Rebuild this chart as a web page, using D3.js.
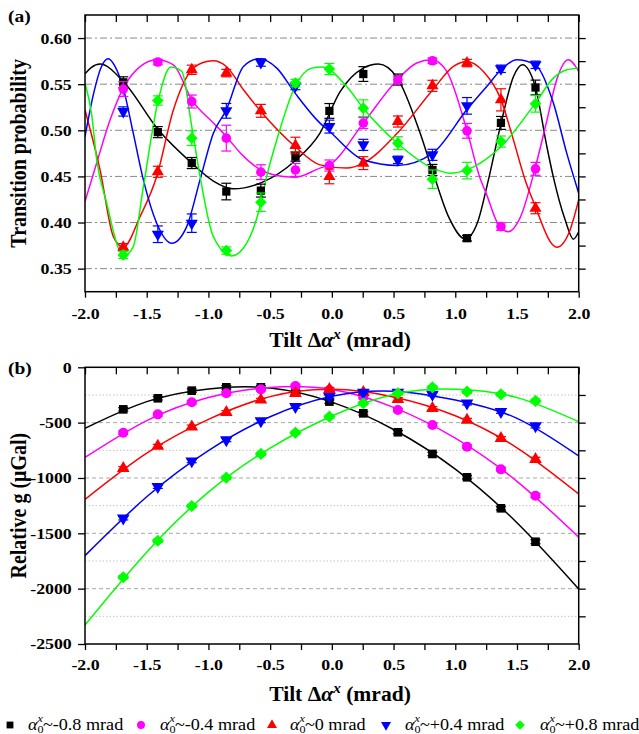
<!DOCTYPE html>
<html>
<head>
<meta charset="utf-8">
<script src="https://cdn.jsdelivr.net/npm/d3@7"></script>
<style>
  body { margin: 0; background: #fff; }
  text { font-family: "Liberation Serif", "Times New Roman", serif; fill: #000; }
</style>
</head>
<body>
<svg id="fig" width="639" height="734"></svg>
<script>
// ---------------- DATA ----------------
const seriesLabels = ["-0.8", "-0.4", "0", "+0.4", "+0.8"];
const seriesColors = ["#000000", "#ff00ff", "#ff0000", "#0000ff", "#00ff00"];
const tiltX = [-1.69, -1.41, -1.135, -0.855, -0.575, -0.295, -0.02, 0.255, 0.535, 0.815, 1.095, 1.37, 1.65];

// (a) transition probability, points and error bars
const probBlack   = [0.552, 0.498, 0.4645, 0.4336, 0.4346, 0.4715, 0.521, 0.561, 0.555, 0.457, 0.383, 0.508, 0.5464];
const probMagenta = [0.5447, 0.574, 0.5312, 0.4915, 0.4546, 0.457, 0.4618, 0.5078, 0.5547, 0.5754, 0.4994, 0.3956, 0.4582];
const probRed     = [0.3732, 0.455, 0.5656, 0.562, 0.5211, 0.4835, 0.45, 0.4644, 0.5095, 0.5482, 0.5729, 0.533, 0.4155];
const probBlue    = [0.5204, 0.3873, 0.3993, 0.5211, 0.5735, 0.548, 0.504, 0.4842, 0.468, 0.4734, 0.5265, 0.5667, 0.571];
const probGreen   = [0.3649, 0.5323, 0.4915, 0.3696, 0.422, 0.5512, 0.5664, 0.524, 0.486, 0.447, 0.4563, 0.4878, 0.5287];

const probErrBlack   = [0.006, 0.006, 0.006, 0.009, 0.007, 0.005, 0.008, 0.008, 0.006, 0.006, 0.003, 0.007, 0.008];
const probErrMagenta = [0.008, 0.003, 0.007, 0.014, 0.008, 0.007, 0.006, 0.006, 0.004, 0.003, 0.008, 0.004, 0.007];
const probErrRed     = [0.004, 0.006, 0.005, 0.004, 0.007, 0.009, 0.008, 0.007, 0.006, 0.006, 0.004, 0.012, 0.006];
const probErrBlue    = [0.005, 0.009, 0.010, 0.008, 0.004, 0.004, 0.007, 0.006, 0.004, 0.006, 0.009, 0.004, 0.004];
const probErrGreen   = [0.004, 0.005, 0.008, 0.004, 0.010, 0.004, 0.006, 0.009, 0.007, 0.010, 0.009, 0.006, 0.009];

// (a) fitted fringes as [tilt, probability]
const fitProbBlack = [[-2, 0.5613], [-1.95, 0.568], [-1.878, 0.5718], [-1.69, 0.553], [-1.406, 0.5005], [-1.135, 0.4644],
  [-0.96, 0.445], [-0.798, 0.4365], [-0.575, 0.443], [-0.298, 0.467], [-0.096, 0.497], [0.066, 0.5417], [0.255, 0.5674],
  [0.377, 0.5718], [0.531, 0.5566], [0.715, 0.497], [0.818, 0.455], [0.95, 0.405], [1.08, 0.3822], [1.18, 0.40],
  [1.268, 0.446], [1.371, 0.5078], [1.471, 0.558], [1.544, 0.571], [1.649, 0.5468], [1.741, 0.483], [1.79, 0.452],
  [1.89, 0.403], [1.957, 0.382], [2, 0.390]];
const fitProbMagenta = [[-2, 0.4227], [-1.9, 0.467], [-1.8, 0.51], [-1.69, 0.5457], [-1.554, 0.569], [-1.419, 0.5765],
  [-1.284, 0.571], [-1.135, 0.533], [-0.96, 0.508], [-0.855, 0.4933], [-0.74, 0.4752], [-0.575, 0.457], [-0.394, 0.4498],
  [-0.298, 0.449], [-0.096, 0.459], [-0.02, 0.4625], [0.255, 0.5078], [0.531, 0.5547], [0.687, 0.5729], [0.81, 0.5764],
  [0.931, 0.5638], [1.093, 0.5005], [1.201, 0.448], [1.255, 0.43], [1.34, 0.40], [1.43, 0.390], [1.525, 0.405],
  [1.649, 0.46], [1.741, 0.51], [1.822, 0.555], [1.916, 0.5765], [2, 0.5638]];
const fitProbRed = [[-2, 0.522], [-1.878, 0.457], [-1.77, 0.3847], [-1.69, 0.3732], [-1.554, 0.4064], [-1.419, 0.45],
  [-1.284, 0.522], [-1.135, 0.5656], [-1.014, 0.5746], [-0.96, 0.5754], [-0.855, 0.5692], [-0.716, 0.5439],
  [-0.575, 0.5204], [-0.298, 0.4824], [-0.096, 0.4625], [0.12, 0.459], [0.255, 0.4644], [0.531, 0.497],
  [0.818, 0.5439], [0.985, 0.5692], [1.093, 0.5746], [1.228, 0.5638], [1.371, 0.533], [1.471, 0.4896],
  [1.566, 0.4462], [1.633, 0.4227], [1.822, 0.3732], [1.93, 0.392], [2, 0.4245]];
const fitProbBlue = [[-2, 0.493], [-1.93, 0.54], [-1.87, 0.568], [-1.811, 0.5775], [-1.757, 0.5692], [-1.69, 0.5457],
  [-1.609, 0.4969], [-1.527, 0.4462], [-1.419, 0.3993], [-1.297, 0.3776], [-1.176, 0.3956], [-1.068, 0.4462],
  [-0.96, 0.4969], [-0.855, 0.5222], [-0.716, 0.5692], [-0.59, 0.5775], [-0.446, 0.5674], [-0.298, 0.5403],
  [-0.096, 0.5078], [-0.02, 0.499], [0.255, 0.468], [0.531, 0.4618], [0.818, 0.4752], [1.093, 0.5222],
  [1.255, 0.5475], [1.371, 0.5656], [1.498, 0.5765], [1.649, 0.571], [1.795, 0.5295], [1.903, 0.4752], [2, 0.4318]];
const fitProbGreen = [[-2, 0.5512], [-1.946, 0.517], [-1.905, 0.468], [-1.824, 0.421], [-1.716, 0.3685], [-1.676, 0.3649],
  [-1.609, 0.3739], [-1.527, 0.439], [-1.406, 0.533], [-1.305, 0.5685], [-1.216, 0.5638], [-1.135, 0.504],
  [-1.068, 0.45], [-0.96, 0.3847], [-0.811, 0.3638], [-0.69, 0.3776], [-0.575, 0.421], [-0.528, 0.45],
  [-0.446, 0.4896], [-0.298, 0.5475], [-0.163, 0.5674], [-0.08, 0.5685], [0.12, 0.5475], [0.255, 0.524],
  [0.531, 0.486], [0.818, 0.4589], [0.958, 0.4535], [1.093, 0.4571], [1.371, 0.4824], [1.649, 0.5295],
  [1.795, 0.5566], [1.903, 0.5656], [2, 0.5674]];

// (b) relative g in µGal, points and error bars
const gBlack   = [-380, -280, -211, -181, -181, -229, -310, -416, -587, -783, -994, -1274, -1576];
const gMagenta = [-591, -425, -316, -235, -199, -169, -205, -270, -386, -521, -717, -922, -1160];
const gRed     = [-913, -711, -537, -407, -295, -235, -199, -226, -289, -370, -476, -641, -831];
const gBlue    = [-1364, -1079, -847, -657, -485, -356, -265, -226, -226, -245, -325, -401, -530];
const gGreen   = [-1897, -1567, -1253, -997, -783, -591, -446, -325, -235, -181, -220, -244, -304];
const gErr     = [15, 15, 15, 15, 15, 15, 15, 15, 15, 15, 15, 15, 18];

// (b) fitted parabolas read at these tilts
const fitTilt = [-2, -1.5, -1, -0.5, 0, 0.5, 1, 1.5, 2];
const fitGBlack   = [-551, -310, -195, -188, -315, -562, -920, -1405, -2003];
const fitGMagenta = [-815, -482, -273, -182, -200, -362, -640, -1030, -1535];
const fitGRed     = [-1193, -775, -470, -265, -199, -268, -438, -728, -1145];
const fitGBlue    = [-1702, -1170, -752, -447, -262, -216, -296, -461, -801];
const fitGGreen   = [-2328, -1670, -1128, -730, -440, -245, -198, -274, -491];

const xTicks = [-2, -1.5, -1, -0.5, 0, 0.5, 1, 1.5, 2];
const probTicks = [0.35, 0.40, 0.45, 0.50, 0.55, 0.60];
const gTicks = [-2500, -2000, -1500, -1000, -500, 0];

// ---------------- DRAWING ----------------
const svg = d3.select("#fig");
const HS = 1.15; // the figure's lettering is a little wide
const LEFT = 85, RIGHT = 578.7;

const symbolTypes = [d3.symbolSquare, d3.symbolCircle, d3.symbolTriangle, d3.symbolTriangle, d3.symbolSquare];
const symbolRot = [0, 0, 0, 180, 45];
const symbolSize = [62, 66, 58, 58, 62];

function isMajor(v, step) { return Math.abs(v / step - Math.round(v / step)) < 1e-6; }

function drawPanel(p) {
  const g = svg.append("g");
  const x = d3.scaleLinear().domain([-2, 2]).range([LEFT, RIGHT]);
  const y = d3.scaleLinear().domain(p.yDomain).range([p.bottom, p.top]);

  // grid lines
  g.selectAll(".grid").data(p.grid).enter().append("line")
    .attr("x1", LEFT).attr("x2", RIGHT)
    .attr("y1", d => y(d.v)).attr("y2", d => y(d.v))
    .attr("stroke", d => d.color).attr("stroke-width", 1)
    .attr("stroke-dasharray", d => d.dash);

  const clipId = "clip" + p.name;
  svg.append("clipPath").attr("id", clipId).append("rect")
    .attr("x", LEFT).attr("y", p.top).attr("width", RIGHT - LEFT).attr("height", p.bottom - p.top);

  // fitted curves
  const line = d3.line().x(d => x(d[0])).y(d => y(d[1])).curve(p.curve);
  const cg = g.append("g").attr("clip-path", "url(#" + clipId + ")");
  p.fits.forEach((f, i) => {
    cg.append("path").attr("d", line(f)).attr("fill", "none")
      .attr("stroke", seriesColors[i]).attr("stroke-width", 1.5);
  });

  // error bars and markers
  p.values.forEach((vals, i) => {
    const sg = g.append("g");
    const errs = p.errs[i];
    const pts = vals.map((v, j) => ({ x: tiltX[j], v: v, e: errs[j] }));
    const eb = sg.selectAll(".eb").data(pts).enter().append("g")
      .attr("stroke", seriesColors[i]).attr("stroke-width", 1.2);
    eb.append("line").attr("x1", d => x(d.x)).attr("x2", d => x(d.x))
      .attr("y1", d => y(d.v - d.e)).attr("y2", d => y(d.v + d.e));
    [-1, 1].forEach(s => {
      eb.append("line").attr("x1", d => x(d.x) - p.cap).attr("x2", d => x(d.x) + p.cap)
        .attr("y1", d => y(d.v + s * d.e)).attr("y2", d => y(d.v + s * d.e));
    });
    sg.selectAll(".mk").data(pts).enter().append("path")
      .attr("d", d3.symbol().type(symbolTypes[i]).size(symbolSize[i] * p.mk))
      .attr("transform", d => "translate(" + x(d.x) + "," + y(d.v) + ") rotate(" + symbolRot[i] + ")")
      .attr("fill", seriesColors[i]);
  });

  // axes
  const minorX = d3.range(-2, 2.001, 0.25);
  const bottomAx = g.append("g").attr("transform", "translate(0," + p.bottom + ")")
    .call(d3.axisBottom(x).tickValues(minorX).tickSize(6).tickPadding(p.xPad)
      .tickFormat(d => isMajor(d, 0.5) ? d.toFixed(1) : ""));
  g.append("g").attr("transform", "translate(0," + p.top + ")")
    .call(d3.axisTop(x).tickValues(minorX).tickSize(-7).tickFormat(""));
  const leftAx = g.append("g").attr("transform", "translate(" + LEFT + ",0)")
    .call(d3.axisLeft(y).tickValues(p.ticks).tickSize(7).tickPadding(4.5).tickFormat(p.fmt));
  g.append("g").attr("transform", "translate(" + RIGHT + ",0)")
    .call(d3.axisRight(y).tickValues(p.rightTicks).tickSize(7).tickFormat(""));

  g.selectAll(".domain").remove();
  g.selectAll(".tick line").attr("stroke", "#000").attr("stroke-width", 1.3);
  [bottomAx, leftAx].forEach(ax => ax.selectAll("text")
    .attr("font-family", "'Liberation Serif', 'Times New Roman', serif")
    .attr("font-weight", "bold").attr("font-size", 15.5).attr("fill", "#000")
    .attr("transform", "scale(" + HS + ",1)"));

  // frame
  g.append("rect").attr("x", LEFT).attr("y", p.top)
    .attr("width", RIGHT - LEFT).attr("height", p.bottom - p.top)
    .attr("fill", "none").attr("stroke", "#000").attr("stroke-width", 1.5);

  // panel letter
  svg.append("text").attr("transform", "translate(8," + p.letterY + ") scale(" + HS + ",1)")
    .attr("font-size", 17).attr("font-weight", "bold").text(p.letter);

  // y title
  svg.append("text")
    .attr("transform", "translate(26," + ((p.top + p.bottom) / 2) + ") rotate(-90) scale(1,1.15)")
    .attr("text-anchor", "middle").attr("font-size", 20).attr("font-weight", "bold").text(p.yTitle);

  // x title: Tilt Δα^x (mrad)
  const xt = svg.append("text").attr("transform", "translate(340," + p.xTitleY + ") scale(1.08,1)")
    .attr("text-anchor", "middle").attr("font-size", 20).attr("font-weight", "bold")
    .style("white-space", "pre");
  xt.append("tspan").text("Tilt \u0394");
  xt.append("tspan").attr("font-style", "italic").text("\u03b1");
  xt.append("tspan").attr("font-style", "italic").attr("font-size", 14).attr("dy", -8).text("x");
  xt.append("tspan").attr("dy", 8).text(" (mrad)");
}

drawPanel({
  name: "a", letter: "(a)", letterY: 22, top: 15, bottom: 291.7, yDomain: [0.325, 0.625],
  ticks: probTicks, rightTicks: d3.range(0.35, 0.6001, 0.025), fmt: d => d.toFixed(2),
  grid: probTicks.map(v => ({ v: v, color: "#8a8a8a", dash: "7,3,2,3" })),
  curve: d3.curveMonotoneX, xPad: 10, cap: 5, mk: 1.1,
  fits: [fitProbBlack, fitProbMagenta, fitProbRed, fitProbBlue, fitProbGreen],
  values: [probBlack, probMagenta, probRed, probBlue, probGreen],
  errs: [probErrBlack, probErrMagenta, probErrRed, probErrBlue, probErrGreen],
  yTitle: "Transition probability", xTitleY: 346.5
});

drawPanel({
  name: "b", letter: "(b)", letterY: 374, top: 367.3, bottom: 644, yDomain: [-2500, 0],
  ticks: gTicks, rightTicks: d3.range(-2250, -249, 250), fmt: d => String(d),
  grid: d3.range(-2250, -249, 250).map(v => isMajor(v, 500)
    ? { v: v, color: "#a8a8a8", dash: "4,3" } : { v: v, color: "#c4c4c4", dash: "1.5,2" }),
  curve: d3.curveNatural, xPad: 9, cap: 5, mk: 1.2,
  fits: [fitGBlack, fitGMagenta, fitGRed, fitGBlue, fitGGreen].map(arr => arr.map((v, j) => [fitTilt[j], v])),
  values: [gBlack, gMagenta, gRed, gBlue, gGreen],
  errs: [gErr, gErr, gErr, gErr, gErr],
  yTitle: "Relative g (\u03bcGal)", xTitleY: 701
});

// ---------------- LEGEND ----------------
const legendMarkX = [10, 141, 272, 386, 520];
const legendTextX = [28, 160, 290, 405, 540];
const legend = svg.append("g");
seriesLabels.forEach((lab, i) => {
  legend.append("path")
    .attr("d", d3.symbol().type(symbolTypes[i]).size(symbolSize[i] * 0.75))
    .attr("transform", "translate(" + legendMarkX[i] + ",725) rotate(" + symbolRot[i] + ")")
    .attr("fill", seriesColors[i]);
  const t = legend.append("text")
    .attr("transform", "translate(" + legendTextX[i] + ",730) scale(1.1,1)")
    .attr("font-size", 16.5);
  t.append("tspan").attr("font-style", "italic").text("\u03b1");
  t.append("tspan").attr("font-size", 11).attr("dy", 2.5).text("0");
  t.append("tspan").attr("font-size", 11).attr("font-style", "italic").attr("dx", -5.5).attr("dy", -11).text("x");
  t.append("tspan").attr("dy", 8.5).text("~" + lab + " mrad");
});
</script>
</body>
</html>
